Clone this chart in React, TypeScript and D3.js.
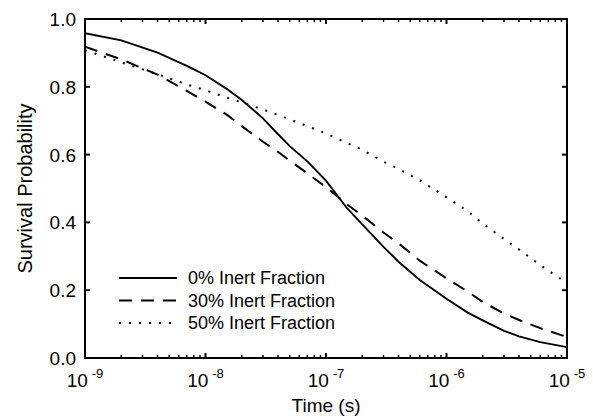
import React from "react";
import * as d3 from "d3";

const times = [1e-9, 2e-9, 4e-9, 7e-9, 1e-8, 1.5e-8, 2e-8, 3e-8, 4e-8, 5e-8, 7e-8, 1e-7, 1.5e-7, 2e-7, 3e-7, 4e-7, 6e-7, 1e-6, 1.5e-6, 2e-6, 3e-6, 4e-6, 6e-6, 1e-5];
const inert0 = [0.958, 0.937, 0.901, 0.862, 0.834, 0.794, 0.761, 0.707, 0.66, 0.625, 0.58, 0.523, 0.441, 0.394, 0.328, 0.284, 0.23, 0.175, 0.134, 0.111, 0.08, 0.064, 0.047, 0.032];
const inert30 = [0.918, 0.881, 0.836, 0.788, 0.756, 0.718, 0.684, 0.638, 0.608, 0.582, 0.545, 0.504, 0.453, 0.42, 0.37, 0.338, 0.287, 0.235, 0.196, 0.165, 0.131, 0.112, 0.088, 0.062];
const inert50 = [0.908, 0.872, 0.837, 0.807, 0.79, 0.768, 0.754, 0.733, 0.717, 0.704, 0.684, 0.662, 0.634, 0.614, 0.579, 0.558, 0.524, 0.474, 0.433, 0.397, 0.351, 0.32, 0.274, 0.221];

const seriesNames = ["0% Inert Fraction", "30% Inert Fraction", "50% Inert Fraction"];
const xTickExponents = [-9, -8, -7, -6, -5];
const yTicks = [0, 0.2, 0.4, 0.6, 0.8, 1.0];
const xTitle = "Time (s)";
const yTitle = "Survival Probability";

const W = 593, H = 418;
const L = 85, R = 567, T = 19, B = 358;
const FONT = "'Liberation Sans', Arial, Helvetica, sans-serif";

export default function App() {
  const x = d3.scaleLog().domain([1e-9, 1e-5]).range([L, R]);
  const y = d3.scaleLinear().domain([0, 1]).range([B, T]);
  const line = d3.line<[number, number]>().x(d => x(d[0])).y(d => y(d[1]));
  const series = [inert0, inert30, inert50].map(v => times.map((t, i) => [t, v[i]] as [number, number]));
  const styles = [
    { dash: undefined as string | undefined, w: 1.9 },
    { dash: "13 9", w: 2 },
    { dash: "2 8", w: 2 },
  ];
  const minor: number[] = [];
  for (let e = -9; e < -5; e++) for (let k = 2; k <= 9; k++) minor.push(k * Math.pow(10, e));
  const major = xTickExponents.map(e => Math.pow(10, e));

  const legX0 = 119, legX1 = 177, legTextX = 188, legY0 = 278, legDy = 22.5;

  return (
    <svg width={W} height={H} style={{ position: "absolute", left: 0, top: 0, background: "#fff" }} fontFamily={FONT}>
      <rect x={0} y={0} width={W} height={H} fill="#fff" />
      <defs>
        <clipPath id="plot"><rect x={L} y={T} width={R - L} height={B - T} /></clipPath>
      </defs>
      <g clipPath="url(#plot)">
        {series.map((s, i) => (
          <path key={i} d={line(s) || ""} fill="none" stroke="#000" strokeWidth={styles[i].w} strokeDasharray={styles[i].dash} />
        ))}
      </g>
      {minor.map((m, i) => (
        <g key={"m" + i} stroke="#000" strokeWidth={1.5}>
          <line x1={x(m)} x2={x(m)} y1={B} y2={B - 3} />
          <line x1={x(m)} x2={x(m)} y1={T} y2={T + 3} />
        </g>
      ))}
      {major.map((m, i) => (
        <g key={"M" + i} stroke="#000" strokeWidth={2}>
          <line x1={x(m)} x2={x(m)} y1={B} y2={B - 5} />
          <line x1={x(m)} x2={x(m)} y1={T} y2={T + 5} />
        </g>
      ))}
      {yTicks.map((v, i) => (
        <g key={"y" + i} stroke="#000" strokeWidth={2}>
          <line x1={L} x2={L + 5} y1={y(v)} y2={y(v)} />
          <line x1={R} x2={R - 5} y1={y(v)} y2={y(v)} />
        </g>
      ))}
      <rect x={L} y={T} width={R - L} height={B - T} fill="none" stroke="#000" strokeWidth={2} />
      {yTicks.map((v, i) => (
        <text key={"yl" + i} x={76} y={y(v) + 7} textAnchor="end" fontSize={19}>{v.toFixed(1)}</text>
      ))}
      {xTickExponents.map((e, i) => (
        <text key={"xl" + i} x={x(Math.pow(10, e))} y={387} textAnchor="middle" fontSize={19}>
          10<tspan dx={4} dy={-9} fontSize={13}>{String(e)}</tspan>
        </text>
      ))}
      <text x={(L + R) / 2} y={412} textAnchor="middle" fontSize={19}>{xTitle}</text>
      <text transform={`translate(32,${(T + B) / 2}) rotate(-90)`} textAnchor="middle" fontSize={20}>{yTitle}</text>
      {seriesNames.map((n, i) => (
        <g key={"lg" + i}>
          <line x1={legX0} x2={legX1} y1={legY0 + i * legDy} y2={legY0 + i * legDy} stroke="#000" strokeWidth={2} strokeDasharray={styles[i].dash} />
          <text x={legTextX} y={legY0 + i * legDy + 6} fontSize={18}>{n}</text>
        </g>
      ))}
    </svg>
  );
}
